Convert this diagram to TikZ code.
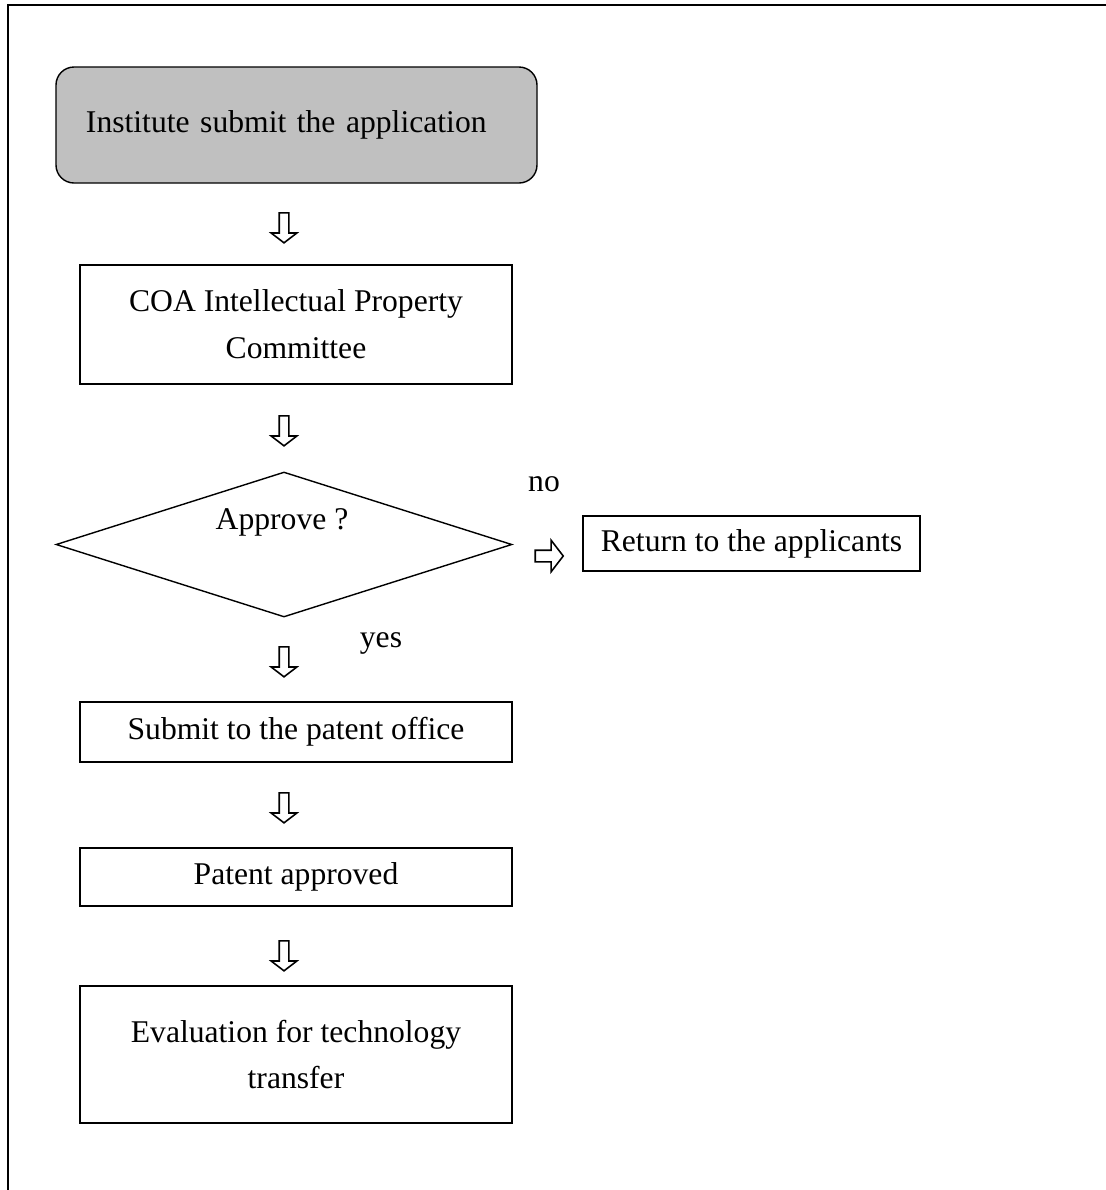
\documentclass[tikz,border=0pt]{standalone}
\usepackage{fontspec}
\setmainfont{Liberation Serif}
\usetikzlibrary{shapes.geometric,shapes.arrows}

\begin{document}
\begin{tikzpicture}[line width=0.8pt,
   stepbox/.style={draw, inner sep=0pt, minimum width=8.64cm, align=center},
   hollowarrow/.style={single arrow, draw, line width=0.9pt, inner sep=0.08cm,
      minimum width=0.48cm, minimum height=0.6cm,
      single arrow head extend=0.16cm, single arrow tip angle=105}]
   \useasboundingbox (0,0) rectangle (22.12,-23.8);
   % open frame round the chart
   \coordinate (fr1) at (22.12,-0.1);
   \coordinate (fr2) at (0.16,-0.1);
   \coordinate (fr3) at (0.16,-23.8);
   \draw[line width=1.1pt] (fr1) -- (fr2) -- (fr3);

   \begin{scope}[every node/.style={font=\fontsize{18}{26.7}\selectfont}]
    \node[draw, fill={rgb,255:red,192;green,192;blue,192}, rounded corners=0.36cm,
          inner sep=0pt, minimum width=9.62cm, minimum height=2.32cm,
          text width=8.42cm, align=left] (apply) at (5.93,-2.5)
          {Institute submit the application};
    \node[stepbox, minimum height=2.38cm] (coa) at (5.92,-6.49)
          {COA Intellectual Property\\Committee};
    \node[draw, diamond, inner sep=0pt, aspect=3.14,
          minimum width=9.12cm, minimum height=2.9cm] (approve) at (5.68,-10.89) {};
    \node (approvetxt) at (5.64,-10.44) {Approve ?};
    \node (no) at (10.88,-9.68) {no};
    \node[draw, inner sep=0pt, minimum width=6.74cm, minimum height=1.1cm]
          (return) at (15.03,-10.87) {Return to the applicants};
    \node (yes) at (7.62,-12.86) {yes};
    \node[stepbox, minimum height=1.2cm] (office) at (5.92,-14.64)
          {Submit to the patent office};
    \node[stepbox, minimum height=1.16cm] (granted) at (5.92,-17.54)
          {Patent approved};
    \node[stepbox, minimum height=2.74cm] (transfer) at (5.92,-21.09)
          {Evaluation for technology\\transfer};
   \end{scope}

   % hollow arrows between the steps
   \node[hollowarrow, shape border rotate=270] (a1) at (5.68,-4.52) {};
   \node[hollowarrow, shape border rotate=270] (a2) at (5.68,-8.58) {};
   \node[hollowarrow, shape border rotate=270] (a3) at (5.68,-13.2) {};
   \node[hollowarrow, shape border rotate=270] (a4) at (5.68,-16.12) {};
   \node[hollowarrow, shape border rotate=270] (a5) at (5.68,-19.08) {};
   \node[hollowarrow, inner sep=0.1cm, minimum width=0.6cm, minimum height=0.56cm,
         single arrow head extend=0.2cm] (ano) at (10.94,-11.12) {};
\end{tikzpicture}
\end{document}
